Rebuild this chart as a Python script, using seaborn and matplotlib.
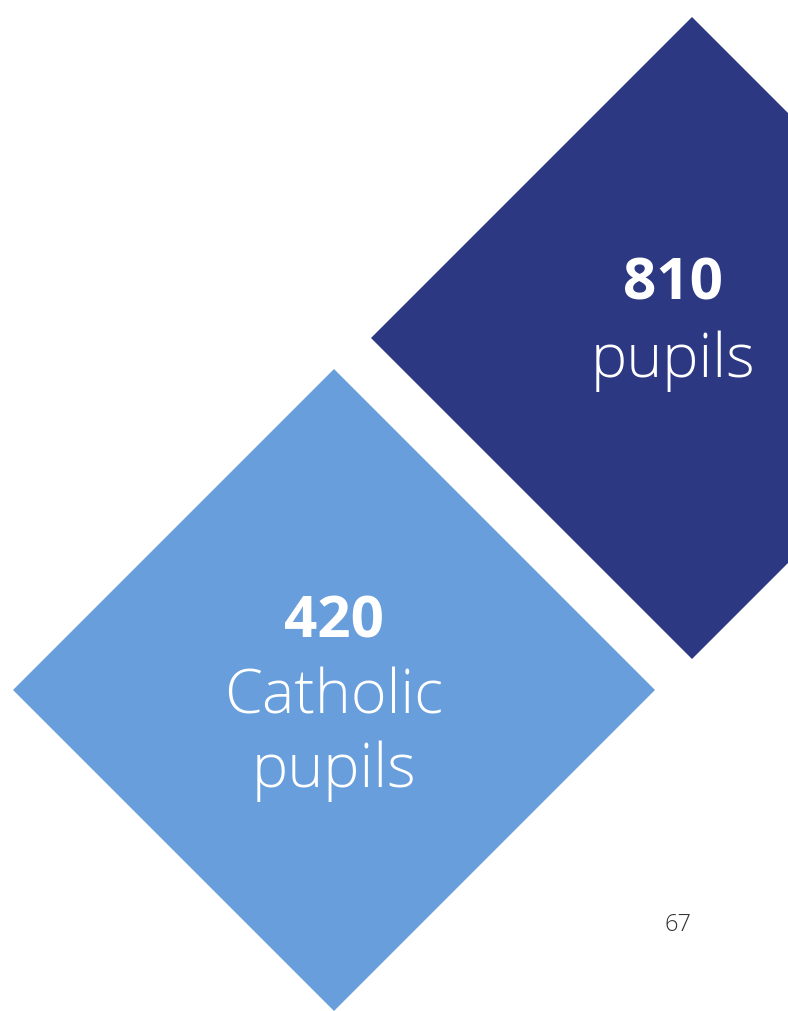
import matplotlib
matplotlib.use("Agg")
import matplotlib.pyplot as plt
from matplotlib.patches import Polygon
import seaborn as sns

# values shown on the page
counts = [810, 420]
labels = [["pupils"], ["Catholic", "pupils"]]
page_number = "67"

sns.set_theme(style="white")
plt.rcParams['font.family'] = ['Open Sans', 'DejaVu Sans']

fig = plt.figure(figsize=(7.88, 10.11), dpi=100)
ax = fig.add_axes([0, 0, 1, 1])
ax.set_xlim(0, 788)
ax.set_ylim(1011, 0)
ax.axis('off')

# diamond layout: centre x, centre y, half diagonal, colour
shapes = [
    (692, 338, 321, '#2C3882'),
    (334, 690, 321, '#679EDB'),
]

for (cx, cy, r, col) in shapes:
    pts = [(cx, cy - r), (cx + r, cy), (cx, cy + r), (cx - r, cy)]
    ax.add_patch(Polygon(pts, closed=True, facecolor=col, edgecolor='none'))

# text positions (baselines)
num_pos = [(673, 300), (334, 637)]
lab_pos = [(673, 377), (334, 713)]
line_gap = 74

for n, lab, (nx, ny), (lx, ly) in zip(counts, labels, num_pos, lab_pos):
    ax.text(nx, ny, str(n), color='white', fontsize=42, fontweight='bold',
            ha='center', va='baseline')
    for i, line in enumerate(lab):
        ax.text(lx, ly + i * line_gap, line, color='white', fontsize=44,
                fontweight='light', ha='center', va='baseline')

ax.text(678, 925, page_number, color='#333333', fontsize=17,
        fontweight='light', ha='center', va='center')

fig.savefig('out.png', dpi=100)
